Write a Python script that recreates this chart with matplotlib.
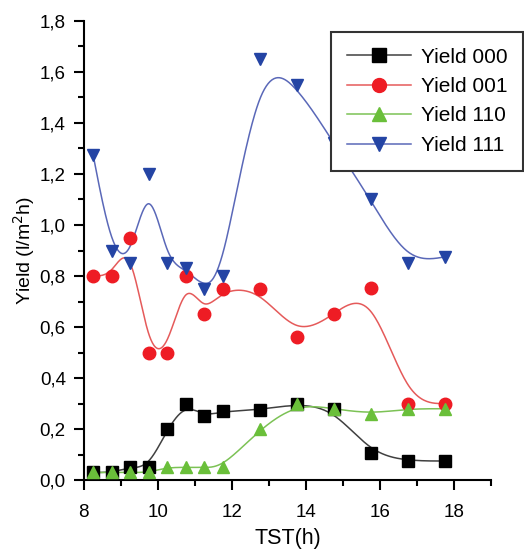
import numpy as np
from matplotlib import pyplot as plt
from matplotlib.ticker import MultipleLocator, FuncFormatter

plt.rcParams['font.family'] = ['Liberation Sans', 'DejaVu Sans']

tst = [8.25, 8.75, 9.25, 9.75, 10.25, 10.75, 11.25, 11.75, 12.75, 13.75, 14.75, 15.75, 16.75, 17.75]
yield_000 = [0.03, 0.03, 0.05, 0.05, 0.20, 0.30, 0.25, 0.27, 0.275, 0.30, 0.28, 0.105, 0.075, 0.075]
yield_001 = [0.80, 0.80, 0.95, 0.50, 0.50, 0.80, 0.65, 0.75, 0.75, 0.56, 0.65, 0.755, 0.30, 0.30]
yield_110 = [0.03, 0.03, 0.03, 0.03, 0.05, 0.05, 0.05, 0.05, 0.20, 0.30, 0.28, 0.26, 0.28, 0.28]
yield_111 = [1.275, 0.90, 0.85, 1.20, 0.85, 0.83, 0.75, 0.80, 1.65, 1.55, 1.32, 1.10, 0.85, 0.875]

labels = ['Yield 000', 'Yield 001', 'Yield 110', 'Yield 111']
markers = ['s', 'o', '^', 'v']
mark_colors = ['#000000', '#ee1c24', '#6abf3a', '#2444a4']
line_colors = ['#404040', '#e55a5a', '#7cc255', '#5a68b8']


def bspline(x, y, n=40):
    # uniform cubic B-spline with the data as control points (Origin style)
    p = np.column_stack([x, y]).astype(float)
    q = np.vstack([2 * p[0] - p[1], p, 2 * p[-1] - p[-2]])
    t = np.linspace(0, 1, n)
    b0 = (1 - t) ** 3 / 6
    b1 = (3 * t ** 3 - 6 * t ** 2 + 4) / 6
    b2 = (-3 * t ** 3 + 3 * t ** 2 + 3 * t + 1) / 6
    b3 = t ** 3 / 6
    pts = []
    for i in range(1, len(q) - 2):
        seg = (np.outer(b0, q[i - 1]) + np.outer(b1, q[i]) +
               np.outer(b2, q[i + 1]) + np.outer(b3, q[i + 2]))
        pts.append(seg)
    pts = np.vstack(pts)
    return pts[:, 0], pts[:, 1]


fig = plt.figure(figsize=(5.24, 5.5), dpi=100)
ax = fig.add_axes([0.160, 0.127, 0.777, 0.835])

series = [yield_000, yield_001, yield_110, yield_111]
handles = []
for vals, lab, m, mc, lc in zip(series, labels, markers, mark_colors, line_colors):
    cx, cy = bspline(tst, vals)
    ax.plot(cx, cy, color=lc, lw=1.1, zorder=2)
    ax.plot(tst, vals, ls='none', marker=m, ms=9, color=mc, mec=mc, zorder=3)
    h, = ax.plot([], [], color=lc, lw=1.1, marker=m, ms=10, mfc=mc, mec=mc, label=lab)
    handles.append(h)

ax.set_xlim(8, 19)
ax.set_ylim(0, 1.8)
ax.xaxis.set_major_locator(MultipleLocator(2))
ax.xaxis.set_minor_locator(MultipleLocator(1))
ax.yaxis.set_major_locator(MultipleLocator(0.2))
ax.yaxis.set_minor_locator(MultipleLocator(0.1))
ax.yaxis.set_major_formatter(FuncFormatter(lambda v, p: ('%.1f' % v).replace('.', ',')))

for s in ['top', 'right']:
    ax.spines[s].set_visible(False)
for s in ['left', 'bottom']:
    ax.spines[s].set_linewidth(1.5)
ax.tick_params(which='major', direction='out', length=7, width=1.5, labelsize=13.5)
ax.tick_params(which='minor', direction='out', length=4, width=1.5)
ax.tick_params(axis='x', which='major', pad=10)
ax.tick_params(axis='y', which='major', pad=6)

ax.set_xlabel('TST(h)', fontsize=15.5, labelpad=5)
ax.set_ylabel('Yield (l/m$^2$h)', fontsize=14, labelpad=2)

leg = ax.legend(handles=handles, loc='upper right',
                bbox_to_anchor=(0.998, 1 - 32 / 550), bbox_transform=fig.transFigure,
                borderaxespad=0, fontsize=15, handlelength=3.1, handletextpad=0.45,
                fancybox=False, framealpha=1, edgecolor='#333333',
                borderpad=0.75, labelspacing=0.5)
leg.get_frame().set_linewidth(1.5)

fig.savefig('out.png', dpi=100)
